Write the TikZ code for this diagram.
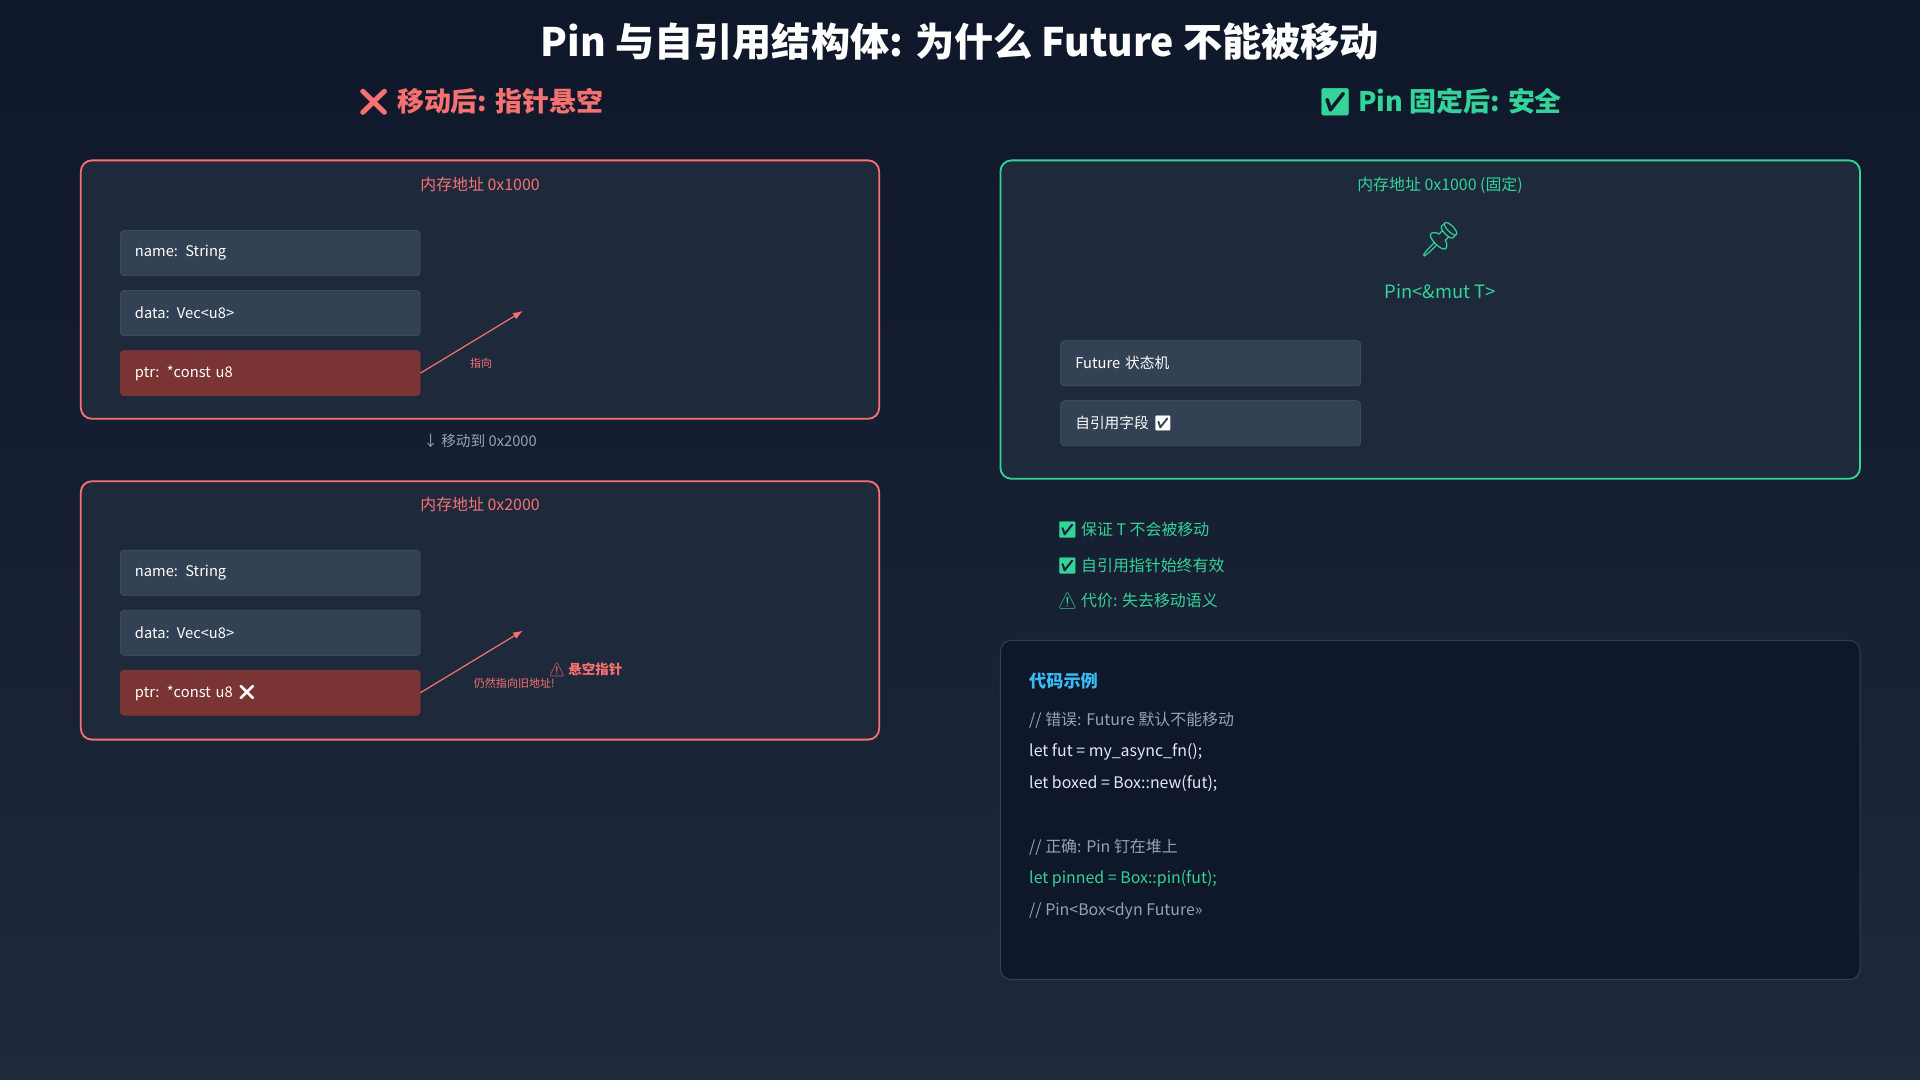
\documentclass[tikz,border=0pt]{standalone}
\usepackage{fontspec}
\setmainfont{Noto Sans CJK SC}
\newfontfamily\emojifont{Noto Emoji}
\usetikzlibrary{positioning}
\definecolor{bgtop}{HTML}{0F172A}
\definecolor{bgbot}{HTML}{1E293B}
\definecolor{panel}{HTML}{1E293B}
\definecolor{fieldbg}{HTML}{334155}
\definecolor{fieldline}{HTML}{475569}
\definecolor{ptrbg}{HTML}{7A3434}
\definecolor{warn}{HTML}{F87171}
\definecolor{safe}{HTML}{34D399}
\definecolor{muted}{HTML}{94A3B8}
\definecolor{codefg}{HTML}{E2E8F0}
\definecolor{codebg}{HTML}{0F172A}
\definecolor{codeline}{HTML}{334155}
\definecolor{heading}{HTML}{38BDF8}
\newcommand{\fs}[1]{\fontsize{#1}{#1}\selectfont}
\tikzset{
  field/.style={draw=fieldline, fill=fieldbg, rounded corners=3pt, minimum width=245pt,
    minimum height=37pt, text=white, font=\fs{12}, anchor=north west, text width=221pt, align=left},
  ptrfield/.style={field, fill=ptrbg, draw=ptrbg},
  mem/.style={rounded corners=9pt, line width=1.5pt, fill=panel},
  pointer/.style={warn, line width=1pt, -{Latex[length=8pt,width=6pt]}},
  note/.style={font=\fs{13}, text=safe, anchor=west},
  code/.style={font=\fs{13}, text=codefg, anchor=west},
}
\usetikzlibrary{arrows.meta}
\begin{document}
\begin{tikzpicture}[x=1pt, y=-1pt]
  % background
  \shade[top color=bgtop, bottom color=bgbot] (0,0) rectangle (1568,882);
  \useasboundingbox (0,0) rectangle (1568,882);
  \node (title) at (784,34) {\fs{32}\bfseries\color{white}Pin 与自引用结构体: 为什么 Future 不能被移动};
  \node (lefthead) at (392,83) {\fs{22}\bfseries\color{warn}{\emojifont ❌} 移动后: 指针悬空};
  \node (righthead) at (1176,83) {\fs{22}\bfseries\color{safe}{\emojifont ✅} Pin 固定后: 安全};

  % before the move
  \draw[mem, draw=warn] (66,131) rectangle (718,342);
  \node[font=\fs{13}, text=warn] (addra) at (392,151) {内存地址 0x1000};
  \node[field] (namea) at (98,188) {name: String};
  \node[field] (dataa) at (98,237) {data: Vec<u8>};
  \node[ptrfield] (ptra) at (98,286) {ptr: *const u8};
  \coordinate (targeta) at (427,254);
  \draw[pointer] (ptra.east) -- (targeta);
  \node[font=\fs{9}, text=warn] (pointsa) at (393,297) {指向};

  \node[font=\fs{12}, text=muted] (move) at (392,360) {↓ 移动到 0x2000};

  % after the move
  \draw[mem, draw=warn] (66,393) rectangle (718,604);
  \node[font=\fs{13}, text=warn] (addrb) at (392,412) {内存地址 0x2000};
  \node[field] (nameb) at (98,449) {name: String};
  \node[field] (datab) at (98,498) {data: Vec<u8>};
  \node[ptrfield] (ptrb) at (98,547) {ptr: *const u8 {\emojifont ❌}};
  \coordinate (targetb) at (427,515);
  \draw[pointer] (ptrb.east) -- (targetb);
  \node[font=\fs{11}\bfseries, text=warn] (dangling) at (478,547) {{\emojifont ⚠} 悬空指针};
  \node[font=\fs{9}, text=warn] (stillold) at (420,558) {仍然指向旧地址!};

  % pinned
  \draw[mem, draw=safe] (817,131) rectangle (1519,391);
  \node[font=\fs{13}, text=safe] (addrc) at (1176,151) {内存地址 0x1000 (固定)};
  \node[font=\fs{28}, text=safe] (pinicon) at (1176,196) {\emojifont 📌};
  \node[font=\fs{15}, text=safe] (pintype) at (1176,238) {Pin<\&mut T>};
  \node[field] (state) at (866,278) {Future 状态机};
  \node[field] (selfref) at (866,327) {自引用字段 {\emojifont ✅}};

  \node[note] (gua) at (860,433) {{\emojifont ✅} 保证 T 不会被移动};
  \node[note] (valid) at (860,462) {{\emojifont ✅} 自引用指针始终有效};
  \node[note] (cost) at (860,491) {{\emojifont ⚠} 代价: 失去移动语义};

  % code sample
  \draw[fill=codebg, draw=codeline, rounded corners=9pt, line width=0.8pt] (817,523) rectangle (1519,800);
  \node[font=\fs{14}\bfseries, text=heading, anchor=west] (codehead) at (837,556) {代码示例};
  \node[code, text=muted] (c1) at (837,588) {// 错误: Future 默认不能移动};
  \node[code] (c2) at (837,614) {let fut = my\_async\_fn();};
  \node[code] (c3) at (837,640) {let boxed = Box::new(fut);};
  \node[code, text=muted] (c4) at (837,692) {// 正确: Pin 钉在堆上};
  \node[code, text=safe] (c5) at (837,718) {let pinned = Box::pin(fut);};
  \node[code, text=muted] (c6) at (837,744) {// Pin<Box<dyn Future>>};
\end{tikzpicture}
\end{document}
